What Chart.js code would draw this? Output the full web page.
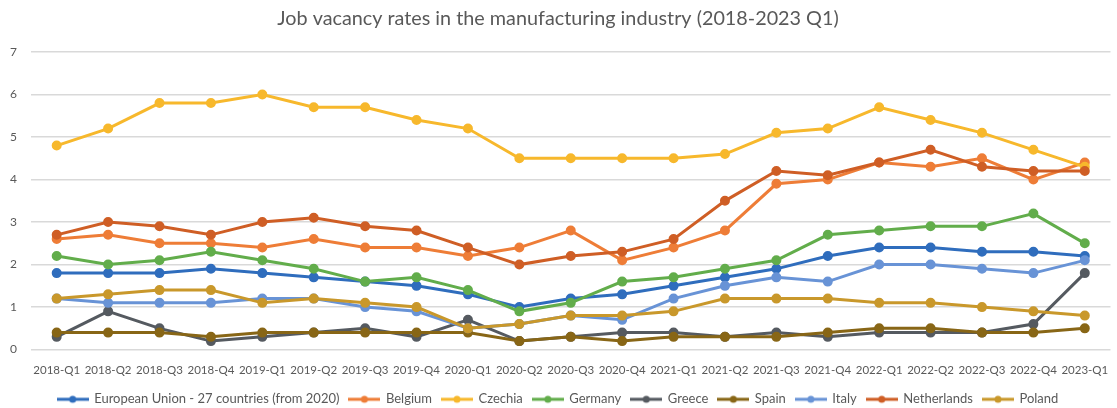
<!DOCTYPE html>
<html>
<head>
<meta charset="utf-8">
<title>Job vacancy rates in the manufacturing industry</title>
<script src="https://cdn.jsdelivr.net/npm/chart.js@4.4.0/dist/chart.umd.min.js"></script>
<style>
  html, body { margin: 0; padding: 0; background: #ffffff; }
  #wrap { width: 1117px; height: 408px; }
</style>
</head>
<body>
<div id="wrap"><canvas id="vacancyChart" width="1117" height="408"></canvas></div>
<script>
// Quarters on the x axis
const quarters = [
  "2018-Q1", "2018-Q2", "2018-Q3", "2018-Q4", "2019-Q1", "2019-Q2", "2019-Q3", "2019-Q4",
  "2020-Q1", "2020-Q2", "2020-Q3", "2020-Q4", "2021-Q1", "2021-Q2", "2021-Q3", "2021-Q4",
  "2022-Q1", "2022-Q2", "2022-Q3", "2022-Q4", "2023-Q1"
];

// Job vacancy rates (%) per country
const euRates          = [1.8, 1.8, 1.8, 1.9, 1.8, 1.7, 1.6, 1.5, 1.3, 1.0, 1.2, 1.3, 1.5, 1.7, 1.9, 2.2, 2.4, 2.4, 2.3, 2.3, 2.2];
const belgiumRates     = [2.6, 2.7, 2.5, 2.5, 2.4, 2.6, 2.4, 2.4, 2.2, 2.4, 2.8, 2.1, 2.4, 2.8, 3.9, 4.0, 4.4, 4.3, 4.5, 4.0, 4.4];
const czechiaRates     = [4.8, 5.2, 5.8, 5.8, 6.0, 5.7, 5.7, 5.4, 5.2, 4.5, 4.5, 4.5, 4.5, 4.6, 5.1, 5.2, 5.7, 5.4, 5.1, 4.7, 4.3];
const germanyRates     = [2.2, 2.0, 2.1, 2.3, 2.1, 1.9, 1.6, 1.7, 1.4, 0.9, 1.1, 1.6, 1.7, 1.9, 2.1, 2.7, 2.8, 2.9, 2.9, 3.2, 2.5];
const greeceRates      = [0.3, 0.9, 0.5, 0.2, 0.3, 0.4, 0.5, 0.3, 0.7, 0.2, 0.3, 0.4, 0.4, 0.3, 0.4, 0.3, 0.4, 0.4, 0.4, 0.6, 1.8];
const spainRates       = [0.4, 0.4, 0.4, 0.3, 0.4, 0.4, 0.4, 0.4, 0.4, 0.2, 0.3, 0.2, 0.3, 0.3, 0.3, 0.4, 0.5, 0.5, 0.4, 0.4, 0.5];
const italyRates       = [1.2, 1.1, 1.1, 1.1, 1.2, 1.2, 1.0, 0.9, 0.5, 0.6, 0.8, 0.7, 1.2, 1.5, 1.7, 1.6, 2.0, 2.0, 1.9, 1.8, 2.1];
const netherlandsRates = [2.7, 3.0, 2.9, 2.7, 3.0, 3.1, 2.9, 2.8, 2.4, 2.0, 2.2, 2.3, 2.6, 3.5, 4.2, 4.1, 4.4, 4.7, 4.3, 4.2, 4.2];
const polandRates      = [1.2, 1.3, 1.4, 1.4, 1.1, 1.2, 1.1, 1.0, 0.5, 0.6, 0.8, 0.8, 0.9, 1.2, 1.2, 1.2, 1.1, 1.1, 1.0, 0.9, 0.8];

// Y axis range
const yMin = 0;
const yMax = 7;
const yStep = 1;

const series = [
  { label: "European Union - 27 countries (from 2020)", data: euRates, color: "#2F6DBD" },
  { label: "Belgium", data: belgiumRates, color: "#EE7D37" },
  { label: "Czechia", data: czechiaRates, color: "#F7B82C" },
  { label: "Germany", data: germanyRates, color: "#62AD4B" },
  { label: "Greece", data: greeceRates, color: "#555A60" },
  { label: "Spain", data: spainRates, color: "#886616" },
  { label: "Italy", data: italyRates, color: "#6893D6" },
  { label: "Netherlands", data: netherlandsRates, color: "#CF5E25" },
  { label: "Poland", data: polandRates, color: "#C9982B" }
];

const textColor = "#595959";
const fontFamily = "Lato, 'Open Sans', sans-serif";

// small line-with-dot icon for the legend
function legendIcon(color) {
  const c = document.createElement("canvas");
  c.width = 32;
  c.height = 10;
  const g = c.getContext("2d");
  g.strokeStyle = color;
  g.lineWidth = 3;
  g.beginPath();
  g.moveTo(0, 5);
  g.lineTo(32, 5);
  g.stroke();
  g.fillStyle = color;
  g.beginPath();
  g.arc(16, 5, 3.5, 0, Math.PI * 2);
  g.fill();
  return c;
}

const datasets = series.map((s, i) => ({
  label: s.label,
  data: s.data,
  borderColor: s.color,
  backgroundColor: s.color,
  pointBackgroundColor: s.color,
  pointBorderColor: s.color,
  borderWidth: 3,
  pointRadius: 3.5,
  pointHoverRadius: 3.5,
  tension: 0,
  fill: false,
  order: series.length - i, // later series drawn on top
  legendIcon: legendIcon(s.color)
}));

const chart = new Chart(document.getElementById("vacancyChart"), {
  type: "line",
  data: { labels: quarters, datasets: datasets },
  options: {
    responsive: false,
    animation: false,
    // negative bottom padding pulls the legend's empty strip off the canvas
    layout: { padding: { left: 0, right: 1, top: 0, bottom: -7.8 } },
    plugins: {
      title: {
        display: true,
        text: "Job vacancy rates in the manufacturing industry (2018-2023 Q1)",
        color: textColor,
        font: { family: fontFamily, size: 19.8, weight: "normal" },
        padding: { top: 6.3, bottom: 22 }
      },
      legend: {
        position: "bottom",
        labels: {
          color: textColor,
          font: { family: fontFamily, size: 13 },
          usePointStyle: true,
          pointStyleWidth: 30,
          padding: 10,
          sort: (a, b) => a.datasetIndex - b.datasetIndex,
          generateLabels: (ch) => {
            const items = Chart.defaults.plugins.legend.labels.generateLabels(ch);
            items.forEach(it => {
              it.pointStyle = ch.data.datasets[it.datasetIndex].legendIcon;
            });
            return items;
          }
        }
      },
      tooltip: { enabled: false }
    },
    scales: {
      x: {
        offset: true,
        grid: { display: false },
        border: { display: false },
        ticks: {
          color: textColor,
          font: { family: fontFamily, size: 11.5 },
          maxRotation: 0,
          autoSkip: false,
          padding: 6
        },
        afterFit: (scale) => { scale.height = 33.2; }
      },
      y: {
        min: yMin,
        max: yMax,
        grid: { color: "#D9D9D9", lineWidth: 1.5, drawTicks: false },
        border: { display: false },
        ticks: {
          stepSize: yStep,
          color: textColor,
          font: { family: fontFamily, size: 12 },
          padding: 14
        },
        afterFit: (scale) => { scale.width = 31; }
      }
    }
  }
});
</script>
</body>
</html>
